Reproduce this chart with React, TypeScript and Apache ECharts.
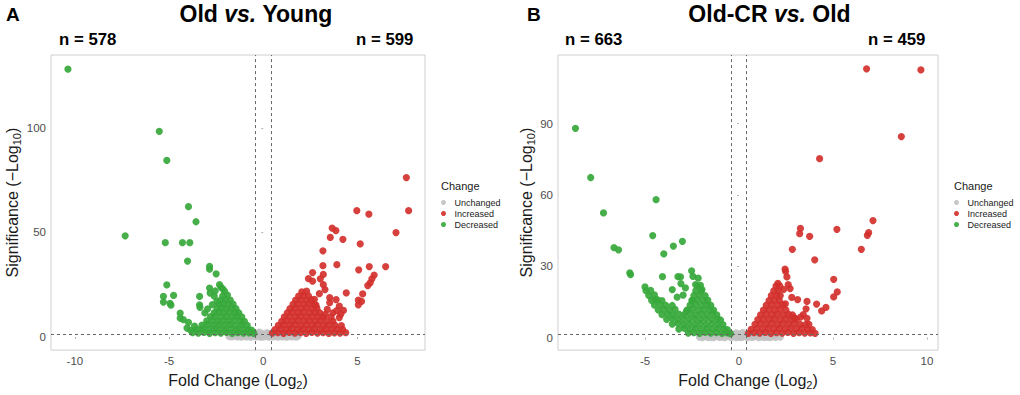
import React, { useEffect, useRef } from "react";
import * as echarts from "echarts";

const FONT = '"Liberation Sans", Arial, Helvetica, sans-serif';

const panelLetters = ["A", "B"];
const panelTitles = [
  ["Old ", "vs.", " Young"],
  ["Old-CR ", "vs.", " Old"],
];
const downCounts = ["n = 578", "n = 663"];
const upCounts = ["n = 599", "n = 459"];
const legendNames = ["Unchanged", "Increased", "Decreased"];
const xTicksA = [-10, -5, 0, 5];
const yTicksA = [0, 50, 100];
const xTicksB = [-5, 0, 5, 10];
const yTicksB = [0, 30, 60, 90];
const foldCut = [-0.4, 0.4];
const sigCut = 1.3;

// ---------- Panel A: Old vs. Young ----------
const unchangedA = [
  [-1.82, 0.25], [-1.55, 0.4], [-1.28, 0.15], [-1.02, 0.5], [-0.78, 0.2], [-0.52, 0.6],
  [-0.28, 0.3], [-0.05, 0.1], [0.18, 0.45], [0.42, 0.2], [0.66, 0.55], [0.9, 0.3],
  [1.14, 0.15], [1.38, 0.5], [1.62, 0.25], [1.86, 0.4],
  [-1.68, 0.05], [-1.4, 0.1], [-1.15, 0.0], [-0.9, 0.05], [-0.65, 0.0], [-0.4, 0.1],
  [-0.15, 0.0], [0.05, 0.05], [0.3, 0.0], [0.55, 0.1], [0.78, 0.0], [1.02, 0.05],
  [1.26, 0.0], [1.5, 0.1], [1.75, 0.0],
  [-1.4, 0.9], [-0.95, 1.0], [-0.6, 1.1], [-0.2, 0.95], [0.1, 0.8], [0.3, 1.15],
  [0.55, 1.0], [0.95, 0.9], [1.25, 1.05],
  [-0.3, 1.6], [-0.1, 1.9], [0.05, 1.4], [0.25, 1.7], [-0.22, 2.3], [0.2, 2.1],
];

const increasedA = [
  [0.48, 1.9], [0.78, 2.1], [1.08, 1.8], [1.38, 2.2], [1.68, 1.9], [1.98, 2.1], [2.28, 1.8],
  [2.58, 2.2], [2.88, 1.9], [3.18, 2.1], [3.48, 1.8], [3.78, 2.0], [4.08, 1.9], [4.38, 2.1],
  [0.62, 3.5], [0.92, 3.9], [1.22, 3.6], [1.52, 4.0], [1.82, 3.7], [2.12, 3.9], [2.42, 3.6],
  [2.72, 4.0], [3.02, 3.7], [3.32, 3.9], [3.62, 3.6], [3.92, 3.8], [4.22, 3.5],
  [0.8, 5.6], [1.1, 5.9], [1.4, 5.7], [1.7, 6.0], [2.0, 5.6], [2.3, 5.9], [2.6, 5.7],
  [2.9, 6.0], [3.2, 5.6], [3.5, 5.9], [3.8, 5.7], [4.15, 5.5],
  [0.98, 7.5], [1.25, 7.9], [1.55, 7.6], [1.85, 8.0], [2.15, 7.7], [2.45, 7.9], [2.75, 7.6],
  [3.05, 8.0], [3.35, 7.7], [3.7, 7.6],
  [1.12, 9.6], [1.4, 9.9], [1.7, 9.7], [2.0, 10.0], [2.3, 9.6], [2.6, 9.9], [2.9, 9.7], [3.2, 9.6],
  [1.28, 11.6], [1.55, 11.9], [1.85, 11.7], [2.15, 12.0], [2.45, 11.6], [2.75, 11.9], [3.0, 11.6],
  [1.42, 13.6], [1.7, 13.9], [2.0, 13.7], [2.3, 14.0], [2.6, 13.6], [2.85, 13.8],
  [1.58, 15.6], [1.85, 15.9], [2.15, 15.7], [2.45, 16.0], [2.7, 15.6],
  [1.72, 17.6], [2.0, 17.9], [2.3, 17.7], [2.55, 17.9],
  [1.88, 19.6], [2.15, 19.9], [2.4, 19.7],
  [2.05, 21.6], [2.3, 21.9],
  [7.6, 76.2], [7.72, 60.4], [4.97, 60.4], [5.61, 58.7], [3.66, 52.1], [3.86, 50.9],
  [3.56, 47.6], [4.23, 46.7], [7.05, 49.9], [5.15, 44.5], [3.17, 41.2], [3.17, 34.1],
  [3.91, 34.6], [6.5, 33.7], [5.63, 33.7], [5.07, 32.1], [2.62, 30.8], [3.19, 29.9],
  [2.4, 27.9], [3.03, 27.8], [2.62, 26.7], [5.89, 29.6], [5.77, 27.8], [5.68, 25.9],
  [5.55, 24.6], [3.19, 25.0], [3.28, 22.7], [4.41, 21.1], [5.28, 20.6], [5.05, 17.6],
  [5.05, 15.4], [5.22, 17.0], [3.87, 17.9], [3.53, 18.8], [2.98, 20.7], [4.04, 14.8],
  [4.26, 12.7], [4.12, 10.9], [4.04, 9.3], [2.72, 18.0], [2.8, 15.2], [3.53, 16.4],
  [3.4, 13.2], [3.7, 11.5], [3.9, 12.6], [3.3, 10.8], [3.6, 9.5],
];

const decreasedA = [
  [-3.75, 2.1], [-3.45, 1.9], [-3.15, 2.2], [-2.85, 1.8], [-2.55, 2.1], [-2.25, 1.9],
  [-1.95, 2.2], [-1.65, 1.8], [-1.35, 2.1], [-1.05, 1.9], [-0.75, 2.0], [-0.5, 1.8],
  [-3.5, 3.7], [-3.2, 3.9], [-2.9, 3.6], [-2.6, 4.0], [-2.3, 3.8], [-2.0, 3.6],
  [-1.7, 4.0], [-1.4, 3.7], [-1.1, 3.9], [-0.8, 3.6], [-0.62, 3.3],
  [-3.25, 5.7], [-2.95, 6.0], [-2.65, 5.6], [-2.35, 5.9], [-2.05, 5.7], [-1.75, 6.0],
  [-1.45, 5.6], [-1.15, 5.9], [-0.85, 5.6],
  [-3.0, 7.7], [-2.7, 8.0], [-2.4, 7.6], [-2.1, 7.9], [-1.8, 7.7], [-1.5, 8.0], [-1.2, 7.6], [-1.0, 7.5],
  [-2.8, 9.7], [-2.55, 10.0], [-2.25, 9.6], [-1.95, 9.9], [-1.65, 9.7], [-1.38, 10.0], [-1.14, 9.6],
  [-2.6, 11.7], [-2.35, 12.0], [-2.1, 11.6], [-1.8, 11.9], [-1.5, 11.7], [-1.3, 11.6],
  [-2.45, 13.7], [-2.2, 14.0], [-1.95, 13.6], [-1.68, 13.9], [-1.45, 13.6],
  [-2.35, 15.7], [-2.1, 16.0], [-1.85, 15.6], [-1.6, 15.7],
  [-2.25, 17.7], [-2.0, 18.0], [-1.75, 17.6],
  [-2.15, 19.7], [-1.9, 20.0],
  [-2.05, 21.8], [-2.25, 23.8], [-2.15, 23.0],
  [-10.37, 128], [-5.52, 98.3], [-5.12, 84.4], [-3.97, 62.3], [-3.57, 55.1], [-7.33, 48.4],
  [-5.2, 45.1], [-4.29, 45.1], [-3.9, 45.1], [-4.02, 36.3], [-2.85, 33.8], [-2.85, 32.4],
  [-2.5, 30.2], [-5.12, 24.9], [-5.3, 19.4], [-4.76, 19.9], [-5.3, 16.7], [-4.95, 16.1],
  [-4.9, 15.2], [-3.38, 19.4], [-2.85, 23.4], [-2.82, 21.0], [-3.38, 15.4], [-3.36, 14.2],
  [-4.41, 11.4], [-4.41, 9.0], [-4.24, 8.3], [-3.97, 7.0], [-2.46, 17.0], [-2.32, 25.0],
  [-3.1, 11.5], [-2.95, 13.5], [-2.7, 15.5], [-2.6, 19.5], [-2.55, 22.0], [-3.65, 5.2],
  [-4.05, 4.3], [-3.85, 3.2],
];

// ---------- Panel B: Old-CR vs. Old ----------
const unchangedB = [
  [-2.1, 0.2], [-1.8, 0.45], [-1.5, 0.15], [-1.2, 0.5], [-0.9, 0.25], [-0.6, 0.6], [-0.3, 0.3],
  [0.0, 0.1], [0.3, 0.4], [0.6, 0.2], [0.9, 0.55], [1.2, 0.3], [1.5, 0.15], [1.8, 0.45], [2.2, 0.25],
  [-1.95, 0.0], [-1.65, 0.05], [-1.35, 0.0], [-1.05, 0.1], [-0.75, 0.0], [-0.45, 0.05],
  [-0.15, 0.0], [0.15, 0.05], [0.45, 0.0], [0.75, 0.1], [1.05, 0.0], [1.35, 0.05],
  [1.65, 0.0], [1.95, 0.1],
  [-1.0, 0.85], [-0.5, 1.0], [0.0, 0.8], [0.4, 1.05], [0.9, 0.9],
  [-0.3, 1.4], [0.05, 1.6], [0.3, 1.35], [-0.15, 2.0], [0.2, 2.2],
];

const increasedB = [
  [0.5, 1.8], [0.8, 2.1], [1.1, 1.9], [1.4, 2.2], [1.7, 1.8], [2.0, 2.1], [2.3, 1.9],
  [2.6, 2.2], [2.9, 1.8], [3.2, 2.1], [3.5, 1.9], [3.8, 2.0], [4.05, 1.8],
  [0.65, 3.5], [0.95, 3.9], [1.25, 3.6], [1.55, 4.0], [1.85, 3.7], [2.15, 3.9], [2.45, 3.6],
  [2.75, 4.0], [3.05, 3.7], [3.35, 3.9], [3.65, 3.6], [3.9, 3.4],
  [0.85, 5.6], [1.15, 5.9], [1.45, 5.7], [1.75, 6.0], [2.05, 5.6], [2.35, 5.9], [2.65, 5.7],
  [2.95, 6.0], [3.25, 5.6], [3.55, 5.5],
  [1.0, 7.6], [1.3, 7.9], [1.6, 7.7], [1.9, 8.0], [2.2, 7.6], [2.5, 7.9], [2.8, 7.7], [3.05, 7.8],
  [1.15, 9.6], [1.45, 9.9], [1.75, 9.7], [2.05, 10.0], [2.35, 9.6], [2.65, 9.8], [2.85, 9.5],
  [1.3, 11.6], [1.6, 11.9], [1.9, 11.7], [2.2, 12.0], [2.5, 11.6],
  [1.45, 13.6], [1.75, 13.9], [2.05, 13.7], [2.35, 13.9],
  [1.6, 15.6], [1.88, 15.9], [2.15, 15.7],
  [1.72, 17.6], [2.0, 17.9], [2.2, 17.7],
  [1.85, 19.6], [2.1, 19.9],
  [1.97, 21.6],
  [6.79, 113.0], [9.68, 112.5], [8.64, 84.5], [4.29, 75.2], [7.13, 49.2], [6.9, 44.1],
  [6.83, 43.0], [5.21, 45.5], [3.27, 45.9], [3.23, 43.7], [3.76, 42.6], [6.51, 37.1],
  [2.84, 37.1], [4.03, 32.7], [2.45, 28.8], [2.48, 27.8], [2.55, 25.5], [5.04, 24.5],
  [5.23, 19.2], [5.04, 17.1], [2.07, 22.8], [2.62, 22.3], [2.72, 20.6], [2.81, 16.9],
  [3.12, 16.0], [3.62, 15.2], [4.13, 14.1], [4.63, 12.7], [4.4, 11.2], [3.57, 12.1],
  [3.42, 9.7], [2.95, 8.3], [3.28, 8.6], [3.62, 8.1], [3.72, 5.6], [2.47, 14.2],
  [2.38, 20.3], [2.17, 21.7],
];

const decreasedB = [
  [-2.7, 1.9], [-2.4, 2.1], [-2.1, 1.8], [-1.8, 2.2], [-1.5, 1.9], [-1.2, 2.1], [-0.9, 1.8],
  [-0.62, 2.0], [-0.45, 1.7],
  [-3.2, 3.6], [-2.9, 3.9], [-2.6, 3.7], [-2.3, 4.0], [-2.0, 3.6], [-1.7, 3.9], [-1.4, 3.7],
  [-1.1, 4.0], [-0.8, 3.6], [-0.62, 3.4],
  [-3.55, 5.7], [-3.25, 6.0], [-2.95, 5.6], [-2.65, 5.9], [-2.35, 5.7], [-2.05, 6.0],
  [-1.75, 5.6], [-1.45, 5.9], [-1.15, 5.7], [-0.85, 5.5],
  [-3.85, 7.7], [-3.55, 8.0], [-3.25, 7.6], [-2.95, 7.9], [-2.65, 7.7], [-2.35, 8.0],
  [-2.05, 7.6], [-1.75, 7.9], [-1.45, 7.7], [-1.15, 7.8], [-0.98, 7.4],
  [-4.1, 9.7], [-3.8, 10.0], [-3.5, 9.6], [-3.2, 9.9], [-2.9, 9.7], [-2.6, 10.0], [-2.3, 9.6],
  [-2.0, 9.9], [-1.7, 9.7], [-1.4, 10.0], [-1.18, 9.6],
  [-4.3, 11.7], [-4.0, 12.0], [-3.7, 11.6], [-3.4, 11.9], [-2.75, 11.7], [-2.45, 12.0],
  [-2.15, 11.6], [-1.85, 11.9], [-1.55, 11.7], [-1.35, 11.6],
  [-4.5, 13.7], [-4.2, 14.0], [-3.9, 13.6], [-2.6, 13.7], [-2.3, 14.0], [-2.0, 13.6],
  [-1.7, 13.9], [-1.5, 13.6],
  [-4.65, 15.7], [-4.35, 16.0], [-4.1, 15.5], [-2.5, 15.7], [-2.2, 16.0], [-1.9, 15.6], [-1.66, 15.8],
  [-4.8, 17.7], [-4.5, 18.0], [-2.4, 17.7], [-2.1, 18.0], [-1.8, 17.6],
  [-4.95, 19.7], [-4.7, 19.9], [-2.3, 19.7], [-2.0, 19.9],
  [-2.2, 21.7], [-2.05, 22.0],
  [-8.7, 88], [-7.89, 67.3], [-7.21, 52.4], [-4.41, 58], [-4.59, 42.9], [-6.65, 37.8],
  [-6.41, 36.9], [-3.49, 38.5], [-3.01, 40.5], [-4.0, 35.2], [-5.81, 27.2], [-5.77, 26.5],
  [-4.07, 25.6], [-3.25, 25.6], [-3.11, 25.5], [-2.52, 28.1], [-2.45, 25.7], [-3.09, 22.7],
  [-2.85, 20.9], [-2.97, 17.9], [-2.17, 25.0], [-2.31, 22.3], [-3.55, 20.2], [-3.29, 17.0],
  [-3.55, 13.5], [-2.49, 15.6], [-1.97, 20.2], [-2.8, 11.0], [-5.0, 21.3], [-4.45, 16.0],
];

const panelData = [
  [unchangedA, increasedA, decreasedA],
  [unchangedB, increasedB, decreasedB],
];

const COLORS = ["#c2c2c2", "#d3302d", "#37a83b"];
const grids = [
  { left: 51, top: 55, width: 374, height: 300 },
  { left: 558, top: 55, width: 380, height: 300 },
];
const xRanges = [[-11.27, 8.59], [-9.63, 10.59]];
const yRanges = [[-6.25, 134.8], [-5.25, 118.8]];
const xTicks = [xTicksA, xTicksB];
const yTicks = [yTicksA, yTicksB];
const yNameGaps = [25, 15];

const nameRich = {
  a: { fontSize: 16, fontFamily: FONT, color: "#1a1a1a", lineHeight: 20 },
  s: { fontSize: 11, fontFamily: FONT, color: "#1a1a1a", lineHeight: 11, verticalAlign: "bottom" },
};

export default function App() {
  const ref = useRef<HTMLDivElement>(null);
  useEffect(() => {
    if (!ref.current) return;
    const chart = echarts.init(ref.current, undefined, { renderer: "svg" });

    const labelStyle = (i: number, ticks: number[][]) => ({
      customValues: ticks[i],
      color: "#4d4d4d",
      fontSize: 11.5,
      fontFamily: FONT,
      margin: 5,
      formatter: (v: number) => String(v),
    });

    const xAxis = [0, 1].map((i) => ({
      type: "value",
      gridIndex: i,
      min: xRanges[i][0],
      max: xRanges[i][1],
      axisLine: { show: false },
      splitLine: { show: false },
      axisTick: { show: true, length: 2, lineStyle: { color: "#b3b3b3" }, customValues: xTicks[i] },
      axisLabel: labelStyle(i, xTicks),
      name: "{a|Fold Change (Log}{s|2}{a|)}",
      nameLocation: "middle",
      nameGap: 15,
      nameTextStyle: { fontSize: 16, fontFamily: FONT, color: "#1a1a1a", rich: nameRich },
    }));

    const yAxis = [0, 1].map((i) => ({
      type: "value",
      gridIndex: i,
      min: yRanges[i][0],
      max: yRanges[i][1],
      axisLine: { show: false },
      splitLine: { show: false },
      axisTick: { show: true, length: 2, lineStyle: { color: "#b3b3b3" }, customValues: yTicks[i] },
      axisLabel: labelStyle(i, yTicks),
      name: "{a|Significance (\u2212Log}{s|10}{a|)}",
      nameLocation: "middle",
      nameRotate: 90,
      nameGap: yNameGaps[i],
      nameTextStyle: { fontSize: 16, fontFamily: FONT, color: "#1a1a1a", rich: nameRich },
    }));

    const series: any[] = [];
    [0, 1].forEach((p) => {
      legendNames.forEach((name, k) => {
        const s: any = {
          type: "scatter",
          name,
          xAxisIndex: p,
          yAxisIndex: p,
          data: panelData[p][k],
          symbol: "circle",
          symbolSize: 7.2,
          itemStyle: { color: COLORS[k], opacity: 0.92 },
          emphasis: { disabled: true },
          silent: true,
          z: 2 + k,
        };
        if (k === 2) {
          s.markLine = {
            silent: true,
            symbol: "none",
            label: { show: false },
            lineStyle: { color: "#666666", type: [3, 3], width: 1 },
            emphasis: { disabled: true },
            data: [{ xAxis: foldCut[0] }, { xAxis: foldCut[1] }, { yAxis: sigCut }],
          };
        }
        series.push(s);
      });
    });

    const legendBase = {
      data: legendNames,
      orient: "vertical",
      icon: "circle",
      itemWidth: 12,
      itemHeight: 5,
      symbolKeepAspect: true,
      itemGap: 0,
      padding: 0,
      selectedMode: false,
      textStyle: { fontSize: 9, lineHeight: 11, color: "#1a1a1a", fontFamily: FONT },
      top: 197,
    };

    const titleRich = {
      b: { fontSize: 23, fontWeight: "bold", fontFamily: FONT, fill: "#000" },
      i: { fontSize: 23, fontWeight: "bold", fontStyle: "italic", fontFamily: FONT, fill: "#000" },
    };

    const titleX = [256, 769.5];
    const letterX = [6, 527];
    const downX = [59, 565];
    const upX = [356, 868];
    const changeX = [441, 954];

    const graphic: any[] = [];
    [0, 1].forEach((p) => {
      graphic.push({
        type: "text",
        x: letterX[p],
        y: 14,
        style: { text: panelLetters[p], fontSize: 19, fontWeight: "bold", fontFamily: FONT, fill: "#000", verticalAlign: "middle" },
      });
      graphic.push({
        type: "text",
        x: titleX[p],
        y: 13.5,
        style: {
          text: `{b|${panelTitles[p][0]}}{i|${panelTitles[p][1]}}{b|${panelTitles[p][2]}}`,
          rich: titleRich,
          align: "center",
          verticalAlign: "middle",
          fontSize: 23,
          fontWeight: "bold",
          fontFamily: FONT,
          fill: "#000",
        },
      });
      graphic.push({
        type: "text",
        x: downX[p],
        y: 39.5,
        style: { text: downCounts[p], fontSize: 16.8, fontWeight: "bold", fontFamily: FONT, fill: "#000", verticalAlign: "middle" },
      });
      graphic.push({
        type: "text",
        x: upX[p],
        y: 39.5,
        style: { text: upCounts[p], fontSize: 16.8, fontWeight: "bold", fontFamily: FONT, fill: "#000", verticalAlign: "middle" },
      });
      graphic.push({
        type: "text",
        x: changeX[p],
        y: 186,
        style: { text: "Change", fontSize: 11, fontFamily: FONT, fill: "#1a1a1a", verticalAlign: "middle" },
      });
    });

    chart.setOption({
      animation: false,
      backgroundColor: "#ffffff",
      grid: grids.map((g) => ({ ...g, show: true, borderColor: "#cfcfcf", borderWidth: 1, backgroundColor: "transparent" })),
      xAxis,
      yAxis,
      series,
      legend: [
        { ...legendBase, left: 441 },
        { ...legendBase, left: 954 },
      ],
      graphic,
    });
    return () => chart.dispose();
  }, []);

  return (
    <div
      ref={ref}
      style={{ position: "absolute", left: 0, top: 0, width: 1020, height: 395, background: "#fff" }}
    />
  );
}
